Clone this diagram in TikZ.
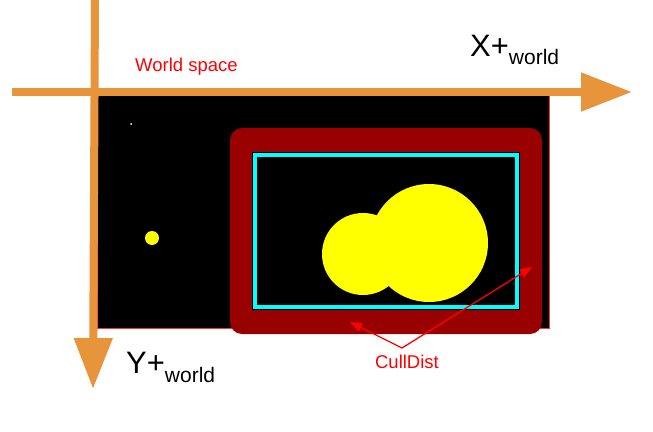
\documentclass[tikz,border=0pt]{standalone}
\usepackage{fontspec}
\setmainfont{Liberation Sans}
\usepackage{tikz}
\usetikzlibrary{arrows.meta,positioning,calc}
\definecolor{axisorange}{HTML}{E8943A}
\definecolor{culldark}{HTML}{990000}
\definecolor{boxcyan}{HTML}{00FFFF}
\definecolor{staryellow}{HTML}{FFFF00}
\definecolor{labelred}{HTML}{FF0000}
\tikzset{
  axis/.style={axisorange,line width=8pt,-{Triangle[length=51pt,width=37pt]}},
  pointer/.style={labelred,line width=1.3pt,-{Triangle[length=12pt,width=9pt]}},
  star/.style={staryellow,fill=staryellow}
}

\begin{document}
\begin{tikzpicture}[x=1pt,y=-1pt]
      \useasboundingbox (0,0) rectangle (653,431);

      % world
      \draw[labelred!80,fill=black,line width=1pt] (97,92) rectangle (549,328);
      \fill[white] (131,124) circle (1);
      \fill[star] (152,238) circle (7);

      % culling margin
      \fill[culldark,rounded corners=12pt] (230,128) rectangle (542,334);
      \draw[black,fill=black,line width=6pt] (255,155) rectangle (517,307);
      \draw[boxcyan,line width=4pt] (255,155) rectangle (517,307);
      \fill[star] (363,254) circle (41);
      \fill[star] (429,243) circle (59);

      % axes
      \draw[axis] (12,92) -- (632,92);
      \draw[axis] (95,0) -- (93,389);

      \node[labelred,font=\fontsize{18.5}{22}\selectfont,anchor=west,inner sep=0] (space) at (135,67) {World space};
      \node[font=\fontsize{31}{36}\selectfont,anchor=base west,inner sep=0] (xlabel) at (470,56) {X+\raisebox{-9pt}{\fontsize{21}{25}\selectfont world}};
      \node[font=\fontsize{31}{36}\selectfont,anchor=base west,inner sep=0] (ylabel) at (126,373) {Y+\raisebox{-9pt}{\fontsize{21}{25}\selectfont world}};

      \node[labelred,font=\fontsize{18.5}{22}\selectfont,inner sep=1pt] (cull) at (407,362) {CullDist};
      \coordinate (split) at (402,348);
      \coordinate (bottomgap) at (350,322);
      \coordinate (rightgap) at (532,267);
      \draw[pointer] (split) -- (bottomgap);
      \draw[pointer] (split) -- (rightgap);
  \end{tikzpicture}
\end{document}
